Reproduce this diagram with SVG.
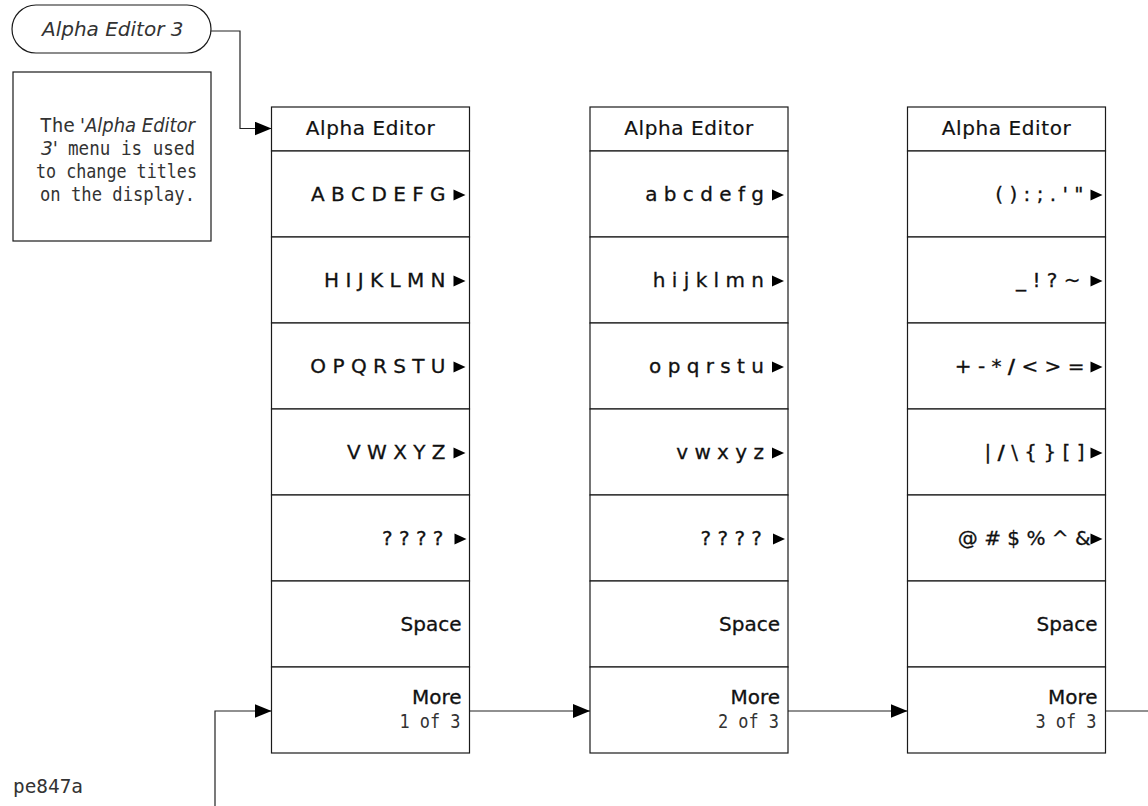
<svg xmlns="http://www.w3.org/2000/svg" width="1148" height="806" viewBox="0 0 1148 806">
<style>
.box{fill:#fff;stroke:#1a1a1a;stroke-width:1.2}
.lbl{font-family:"DejaVu Sans",sans-serif;font-size:20px;fill:#111;stroke:#111;stroke-width:0.3;text-anchor:end}
.hdr{font-family:"DejaVu Sans",sans-serif;font-size:20px;fill:#111;stroke:#111;stroke-width:0.2;letter-spacing:0.6px;text-anchor:middle}
.lt{font-family:"DejaVu Sans Mono",monospace;font-size:19px;fill:#333}
.it{font-family:"DejaVu Sans",sans-serif;font-style:italic;fill:#333}
.tri{fill:#000}
.conn{fill:none;stroke:#222;stroke-width:1.2}
.b{font-weight:bold}
</style>
<defs>
<marker id="ah" markerWidth="17" markerHeight="14" refX="17" refY="7" orient="auto" markerUnits="userSpaceOnUse">
<path d="M0,0 L17,7 L0,14 Z" fill="#000"/>
</marker>
</defs>

<g id="title">
<rect class="box" x="12" y="5" width="199" height="48" rx="24" ry="24"/>
<text class="it" x="42" y="36" font-size="20">Alpha Editor 3</text>
</g>

<g id="note">
<rect class="box" x="13" y="72" width="198" height="169"/>
<text class="lt" x="40" y="132" font-size="20" textLength="35" lengthAdjust="spacingAndGlyphs">The</text>
<text class="it" x="80" y="132" font-size="19" textLength="115" lengthAdjust="spacingAndGlyphs">'Alpha Editor</text>
<text class="it" x="41" y="155" font-size="19" textLength="17" lengthAdjust="spacingAndGlyphs">3'</text>
<text class="lt" x="68" y="155" font-size="20" textLength="127" lengthAdjust="spacingAndGlyphs">menu is used</text>
<text class="lt" x="36" y="178" font-size="20" textLength="161" lengthAdjust="spacingAndGlyphs">to change titles</text>
<text class="lt" x="40" y="201" font-size="20" textLength="155" lengthAdjust="spacingAndGlyphs">on the display.</text>
</g>

<g id="connectors">
<path class="conn" d="M211,31 H240 V128.5 H271.5" marker-end="url(#ah)"/>
<path class="conn" d="M215,806 V711 H271.5" marker-end="url(#ah)"/>
<path class="conn" d="M469.5,711 H590" marker-end="url(#ah)"/>
<path class="conn" d="M788,711 H907.5" marker-end="url(#ah)"/>
<path class="conn" d="M1105.5,711 H1148"/>
</g>

<g id="menu1" transform="translate(271.5,0)">
<rect class="box" x="0" y="107" width="198" height="44"/>
<text class="hdr" x="99" y="135">Alpha Editor</text>
<g id="m1k1"><rect class="box" x="0" y="151" width="198" height="86"/><text class="lbl" x="174" y="201">A B C D E F G</text><polygon class="tri" points="182,189.5 182,200.5 194,195"/></g>
<g id="m1k2"><rect class="box" x="0" y="237" width="198" height="86"/><text class="lbl" x="174" y="287">H I J K L M N</text><polygon class="tri" points="182,275.5 182,286.5 194,281"/></g>
<g id="m1k3"><rect class="box" x="0" y="323" width="198" height="86"/><text class="lbl" x="174" y="373">O P Q R S T U</text><polygon class="tri" points="182,361.5 182,372.5 194,367"/></g>
<g id="m1k4"><rect class="box" x="0" y="409" width="198" height="86"/><text class="lbl" x="174" y="459">V W X Y Z</text><polygon class="tri" points="182,447.5 182,458.5 194,453"/></g>
<g id="m1k5"><rect class="box" x="0" y="495" width="198" height="86"/><text class="lbl" x="172" y="545">? ? ? ?</text><polygon class="tri" points="183,533.5 183,544.5 195,539"/></g>
<g id="m1k6"><rect class="box" x="0" y="581" width="198" height="86"/><text class="lbl" x="190" y="631">Space</text></g>
<g id="m1k7"><rect class="box" x="0" y="667" width="198" height="86"/><text class="lbl" x="190" y="704">More</text><text class="lt" x="128" y="728" textLength="61" lengthAdjust="spacingAndGlyphs">1 of 3</text></g>
</g>

<g id="menu2" transform="translate(590,0)">
<rect class="box" x="0" y="107" width="198" height="44"/>
<text class="hdr" x="99" y="135">Alpha Editor</text>
<g id="m2k1"><rect class="box" x="0" y="151" width="198" height="86"/><text class="lbl" x="174" y="201">a b c d e f g</text><polygon class="tri" points="182,189.5 182,200.5 194,195"/></g>
<g id="m2k2"><rect class="box" x="0" y="237" width="198" height="86"/><text class="lbl" x="174" y="287">h i j k l m n</text><polygon class="tri" points="182,275.5 182,286.5 194,281"/></g>
<g id="m2k3"><rect class="box" x="0" y="323" width="198" height="86"/><text class="lbl" x="174" y="373">o p q r s t u</text><polygon class="tri" points="182,361.5 182,372.5 194,367"/></g>
<g id="m2k4"><rect class="box" x="0" y="409" width="198" height="86"/><text class="lbl" x="174" y="459">v w x y z</text><polygon class="tri" points="182,447.5 182,458.5 194,453"/></g>
<g id="m2k5"><rect class="box" x="0" y="495" width="198" height="86"/><text class="lbl" x="172" y="545">? ? ? ?</text><polygon class="tri" points="183,533.5 183,544.5 195,539"/></g>
<g id="m2k6"><rect class="box" x="0" y="581" width="198" height="86"/><text class="lbl" x="190" y="631">Space</text></g>
<g id="m2k7"><rect class="box" x="0" y="667" width="198" height="86"/><text class="lbl" x="190" y="704">More</text><text class="lt" x="128" y="728" textLength="61" lengthAdjust="spacingAndGlyphs">2 of 3</text></g>
</g>

<g id="menu3" transform="translate(907.5,0)">
<rect class="box" x="0" y="107" width="198" height="44"/>
<text class="hdr" x="99" y="135">Alpha Editor</text>
<g id="m3k1"><rect class="box" x="0" y="151" width="198" height="86"/><text class="lbl" x="176" y="201">( ) : ; . ' "</text><polygon class="tri" points="183,189.5 183,200.5 195,195"/></g>
<g id="m3k2"><rect class="box" x="0" y="237" width="198" height="86"/><text class="lbl" x="173" y="287">_ ! ? ~</text><polygon class="tri" points="183,275.5 183,286.5 195,281"/></g>
<g id="m3k3"><rect class="box" x="0" y="323" width="198" height="86"/><text class="lbl" x="177" y="373">+ - * <tspan class="b">/</tspan> &lt; &gt; =</text><polygon class="tri" points="183,361.5 183,372.5 195,367"/></g>
<g id="m3k4"><rect class="box" x="0" y="409" width="198" height="86"/><text class="lbl" x="177" y="459">| <tspan class="b">/</tspan> \ { } [ ]</text><polygon class="tri" points="183,447.5 183,458.5 195,453"/></g>
<g id="m3k5"><rect class="box" x="0" y="495" width="198" height="86"/><text class="lbl" x="183" y="545">@ # $ % ^ &amp;</text><polygon class="tri" points="183,533.5 183,544.5 195,539"/></g>
<g id="m3k6"><rect class="box" x="0" y="581" width="198" height="86"/><text class="lbl" x="190" y="631">Space</text></g>
<g id="m3k7"><rect class="box" x="0" y="667" width="198" height="86"/><text class="lbl" x="190" y="704">More</text><text class="lt" x="128" y="728" textLength="61" lengthAdjust="spacingAndGlyphs">3 of 3</text></g>
</g>

<g id="figid">
<text class="lt" x="13" y="793" font-size="21" textLength="70" lengthAdjust="spacingAndGlyphs">pe847a</text>
</g>
</svg>
